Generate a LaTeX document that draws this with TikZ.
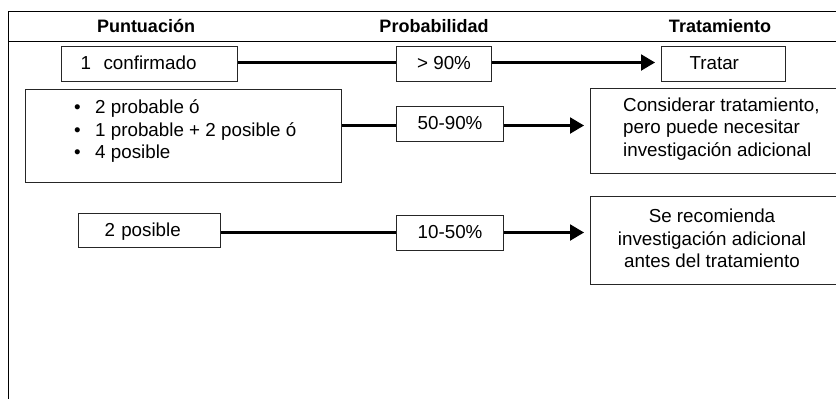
\documentclass[tikz,border=0pt]{standalone}
\usepackage{fontspec}
\setmainfont{Liberation Sans}
\usetikzlibrary{arrows.meta,calc}
\begin{document}
\begin{tikzpicture}[x=1pt,y=-1pt,
  txt/.style={font=\fontsize{18.8}{22.5}\selectfont, inner sep=0pt},
  box/.style={txt, draw=black!85, line width=1.1pt, rectangle, anchor=north west},
  sbox/.style={box, text height=13.5pt, text depth=2pt},
  hdr/.style={font=\fontsize{18}{22}\selectfont\bfseries, inner sep=0pt, anchor=base},
  conn/.style={line width=2.2pt},
  arr/.style={conn, -{Triangle[length=14pt,width=16pt]}, shorten >=6pt},
  frame/.style={line width=0.9pt}]
\useasboundingbox (0,0) rectangle (836,399);
\clip (0,0) rectangle (836,399);

% frame
\coordinate (ftl) at (8,11);
\coordinate (ftr) at (840,11);
\coordinate (fbl) at (8,402);
\coordinate (hl) at (8,41);
\coordinate (hr) at (840,41);
\draw[frame] (ftr) -- (ftl) -- (fbl);
\draw[frame] (hl) -- (hr);

% headers
\node[hdr] (h1) at (146,32.3) {Puntuación};
\node[hdr] (h2) at (434,32.3) {Probabilidad};
\node[hdr] (h3) at (720,32.3) {Tratamiento};

% row 1
\node[sbox, inner xsep=19pt, text width=138pt, align=left, minimum height=35pt] (conf) at (61,46) {1\ \ confirmado};
\node[sbox, minimum width=95pt, minimum height=35pt, align=center] (p1) at (396,46) {> 90\%};
\node[sbox, inner xsep=28pt, text width=68pt, align=left, minimum height=35pt] (trat) at (661,46) {Tratar};

% row 2
\node[box, minimum width=316pt, minimum height=93pt] (bul) at (25,89) {};
\node[txt, anchor=north west, align=left] (bult) at (74,99.5)
  {\makebox[21pt][l]{•}2 probable ó\\
   \makebox[21pt][l]{•}1 probable + 2 posible ó\\
   \makebox[21pt][l]{•}4 posible};
\node[sbox, minimum width=107pt, minimum height=35pt, align=center] (p2) at (396,106) {50-90\%};
\node[box, minimum width=260pt, minimum height=85pt] (cons) at (590,88) {};
\node[txt, anchor=north west, align=left] (const) at (623,97.3)
  {Considerar tratamiento,\\pero puede necesitar\\investigación adicional};

% row 3
\node[sbox, inner xsep=26pt, text width=90pt, align=left, minimum height=34pt] (pos) at (78,213) {2 posible};
\node[sbox, minimum width=107pt, minimum height=35pt, align=center] (p3) at (396,215) {10-50\%};
\node[box, minimum width=250pt, minimum height=88pt] (se) at (590,196) {};
\node[txt, anchor=north, align=center] (set) at (712,209)
  {Se recomienda\\investigación adicional\\antes del tratamiento};

% connector rows
\coordinate (r1) at (0,62.5);
\coordinate (r2) at (0,125.5);
\coordinate (r3) at (0,232.5);

\draw[conn] (conf.east |- r1) -- (p1.west |- r1);
\draw[arr] (p1.east |- r1) -- (trat.west |- r1);
\draw[conn] (bul.east |- r2) -- (p2.west |- r2);
\draw[arr] (p2.east |- r2) -- (cons.west |- r2);
\draw[conn] (pos.east |- r3) -- (p3.west |- r3);
\draw[arr] (p3.east |- r3) -- (se.west |- r3);
\end{tikzpicture}
\end{document}
